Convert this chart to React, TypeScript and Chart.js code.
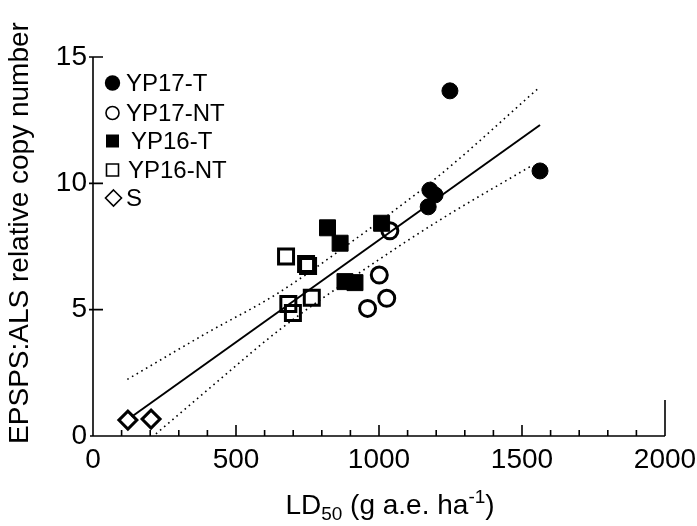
import React, { useEffect, useRef } from 'react';
import { Chart, registerables } from 'chart.js';

Chart.register(...registerables);

// ---- data ----
const yp17T_x = [1248, 1563, 1178, 1196, 1172];
const yp17T_y = [13.66, 10.49, 9.73, 9.54, 9.07];
const yp17NT_x = [1038, 1001, 1027, 960];
const yp17NT_y = [8.12, 6.37, 5.45, 5.05];
const yp16T_x = [820, 864, 1009, 881, 916];
const yp16T_y = [8.24, 7.63, 8.42, 6.11, 6.07];
const yp16NT_x = [675, 745, 752, 765, 683, 699];
const yp16NT_y = [7.1, 6.81, 6.73, 5.47, 5.22, 4.87];
const s_x = [122, 203];
const s_y = [0.63, 0.67];

const fitX = [135, 1563];
const fitY = [0.76, 12.31];
const upperX = [120, 400, 642, 900, 1213, 1557];
const upperY = [2.24, 4.09, 5.62, 7.65, 10.33, 13.76];
const lowerX = [220, 450, 654, 950, 1213, 1528];
const lowerY = [0.08, 2.3, 4.22, 6.6, 8.55, 10.66];

const xMin = 0;
const xMax = 2000;
const xMajorStep = 500;
const xMinorStep = 100;
const yMin = 0;
const yMax = 15;
const yMajorStep = 5;

const legendLabels = ['YP17-T', 'YP17-NT', 'YP16-T', 'YP16-NT', 'S'];
const xTitleParts = ['LD', '50', ' (g a.e. ha', '-1', ')'];
const yTitle = 'EPSPS:ALS relative copy number';

const FONT = '"Liberation Sans", Arial, Helvetica, sans-serif';

const zip = (xs: number[], ys: number[]) => xs.map((x, i) => ({ x, y: ys[i] }));

function drawMarker(ctx: CanvasRenderingContext2D, kind: string, cx: number, cy: number, r: number, lw: number) {
  ctx.save();
  ctx.lineWidth = lw;
  ctx.strokeStyle = '#000';
  ctx.fillStyle = '#000';
  ctx.beginPath();
  if (kind === 'fc' || kind === 'oc') {
    ctx.arc(cx, cy, r, 0, Math.PI * 2);
  } else if (kind === 'fs' || kind === 'os') {
    ctx.rect(cx - r, cy - r, 2 * r, 2 * r);
  } else {
    ctx.moveTo(cx, cy - r);
    ctx.lineTo(cx + r, cy);
    ctx.lineTo(cx, cy + r);
    ctx.lineTo(cx - r, cy);
    ctx.closePath();
  }
  if (kind === 'fc' || kind === 'fs') ctx.fill();
  else ctx.stroke();
  ctx.restore();
}

const decor = {
  id: 'decor',
  afterDraw(chart: any) {
    const { ctx, chartArea: a, scales } = chart;
    const xs = scales.x;
    const ys = scales.y;
    ctx.save();
    ctx.strokeStyle = '#000';
    ctx.lineWidth = 1.6;
    ctx.lineCap = 'butt';
    // axes
    ctx.beginPath();
    ctx.moveTo(a.left, ys.getPixelForValue(yMax));
    ctx.lineTo(a.left, a.bottom);
    ctx.moveTo(a.left - 3, a.bottom);
    ctx.lineTo(a.right, a.bottom);
    // right end tall mark
    ctx.moveTo(a.right, a.bottom);
    ctx.lineTo(a.right, a.bottom - 36);
    ctx.stroke();
    // x ticks (inward)
    ctx.beginPath();
    for (let v = xMin + xMinorStep; v < xMax; v += xMinorStep) {
      const px = xs.getPixelForValue(v);
      const len = v % xMajorStep === 0 ? 11 : 6;
      ctx.moveTo(px, a.bottom);
      ctx.lineTo(px, a.bottom - len);
    }
    // y ticks
    for (let v = yMin + yMajorStep; v <= yMax; v += yMajorStep) {
      const py = ys.getPixelForValue(v);
      ctx.moveTo(a.left - 4, py);
      ctx.lineTo(a.left + 10, py);
    }
    ctx.stroke();

    // legend
    const rows = [83, 113, 141, 170, 198];
    const textX = [126, 126, 131, 128, 126];
    const mx = 112.5;
    drawMarker(ctx, 'fc', mx, rows[0], 7.7, 1);
    drawMarker(ctx, 'oc', mx, rows[1], 6.5, 1.6);
    drawMarker(ctx, 'fs', mx, rows[2], 6.5, 1);
    drawMarker(ctx, 'os', mx, rows[3], 6, 1.6);
    drawMarker(ctx, 'd', mx + 1, rows[4], 8, 1.6);
    ctx.fillStyle = '#000';
    ctx.font = `24px ${FONT}`;
    ctx.textBaseline = 'middle';
    ctx.textAlign = 'left';
    legendLabels.forEach((t, i) => {
      ctx.fillText(t, textX[i], rows[i] + 1);
    });

    // x title with subscript / superscript
    const big = 28;
    const small = 19;
    ctx.textBaseline = 'alphabetic';
    const widths = xTitleParts.map((p, i) => {
      ctx.font = `${i === 1 || i === 3 ? small : big}px ${FONT}`;
      return ctx.measureText(p).width;
    });
    const total = widths.reduce((s, w) => s + w, 0);
    let cx = 390 - total / 2;
    const base = 514;
    xTitleParts.forEach((p, i) => {
      const isSub = i === 1;
      const isSup = i === 3;
      ctx.font = `${isSub || isSup ? small : big}px ${FONT}`;
      const dy = isSub ? 6 : isSup ? -11 : 0;
      ctx.fillText(p, cx, base + dy);
      cx += widths[i];
    });

    // y title
    ctx.save();
    ctx.translate(20, 233);
    ctx.rotate(-Math.PI / 2);
    ctx.font = `28px ${FONT}`;
    ctx.textAlign = 'center';
    ctx.textBaseline = 'middle';
    ctx.fillText(yTitle, 0, 0);
    ctx.restore();

    ctx.restore();
  },
};

export default function App() {
  const ref = useRef<HTMLCanvasElement | null>(null);
  useEffect(() => {
    if (!ref.current) return;
    const chart = new Chart(ref.current, {
      type: 'scatter',
      data: {
        datasets: [
          {
            type: 'line',
            label: 'fit',
            data: zip(fitX, fitY),
            borderColor: '#000',
            borderWidth: 2,
            pointRadius: 0,
            fill: false,
            order: 10,
          } as any,
          {
            type: 'line',
            label: 'upper',
            data: zip(upperX, upperY),
            borderColor: '#000',
            borderWidth: 1.6,
            borderDash: [1.6, 3.8],
            pointRadius: 0,
            cubicInterpolationMode: 'monotone',
            fill: false,
            order: 11,
          } as any,
          {
            type: 'line',
            label: 'lower',
            data: zip(lowerX, lowerY),
            borderColor: '#000',
            borderWidth: 1.6,
            borderDash: [1.6, 3.8],
            pointRadius: 0,
            cubicInterpolationMode: 'monotone',
            fill: false,
            order: 12,
          } as any,
          {
            label: 'YP17-T',
            data: zip(yp17T_x, yp17T_y),
            pointStyle: 'circle',
            pointRadius: 8,
            backgroundColor: '#000',
            borderColor: '#000',
            borderWidth: 1,
            order: 5,
          },
          {
            label: 'YP16-T',
            data: zip(yp16T_x, yp16T_y),
            pointStyle: 'rect',
            pointRadius: 11.3,
            backgroundColor: '#000',
            borderColor: '#000',
            borderWidth: 1,
            order: 4,
          },
          {
            label: 'YP17-NT',
            data: zip(yp17NT_x, yp17NT_y),
            pointStyle: 'circle',
            pointRadius: 8,
            backgroundColor: 'rgba(0,0,0,0)',
            borderColor: '#000',
            borderWidth: 3,
            order: 3,
          },
          {
            label: 'YP16-NT',
            data: zip(yp16NT_x, yp16NT_y),
            pointStyle: 'rect',
            pointRadius: 10.6,
            backgroundColor: 'rgba(0,0,0,0)',
            borderColor: '#000',
            borderWidth: 3,
            order: 2,
          },
          {
            label: 'S',
            data: zip(s_x, s_y),
            pointStyle: 'rectRot',
            pointRadius: 9,
            backgroundColor: 'rgba(0,0,0,0)',
            borderColor: '#000',
            borderWidth: 3,
            order: 1,
          },
        ],
      },
      options: {
        animation: false,
        responsive: false,
        layout: { padding: { top: 57, right: 32, bottom: 0, left: 0 } },
        plugins: {
          legend: { display: false },
          tooltip: { enabled: false },
        },
        scales: {
          x: {
            type: 'linear',
            min: xMin,
            max: xMax,
            ticks: {
              stepSize: xMajorStep,
              color: '#000',
              font: { size: 28, family: FONT },
              padding: 7,
              maxRotation: 0,
              callback: (v: any) => String(v),
            },
            grid: { display: false, drawTicks: false },
            border: { display: false },
            afterFit: (s: any) => {
              s.height = 90;
              s.paddingLeft = 0;
              s.paddingRight = 0;
            },
          },
          y: {
            type: 'linear',
            min: yMin,
            max: yMax,
            ticks: {
              stepSize: yMajorStep,
              color: '#000',
              font: { size: 28, family: FONT },
              padding: 6,
              callback: (v: any) => String(v),
            },
            grid: { display: false, drawTicks: false },
            border: { display: false },
            afterFit: (s: any) => {
              s.width = 93;
              s.paddingTop = 0;
              s.paddingBottom = 0;
            },
          },
        },
      },
      plugins: [decor],
    });
    return () => chart.destroy();
  }, []);
  return (
    <div style={{ position: 'absolute', left: 0, top: 0, width: 697, height: 526, background: '#fff' }}>
      <canvas ref={ref} width={697} height={526} />
    </div>
  );
}
